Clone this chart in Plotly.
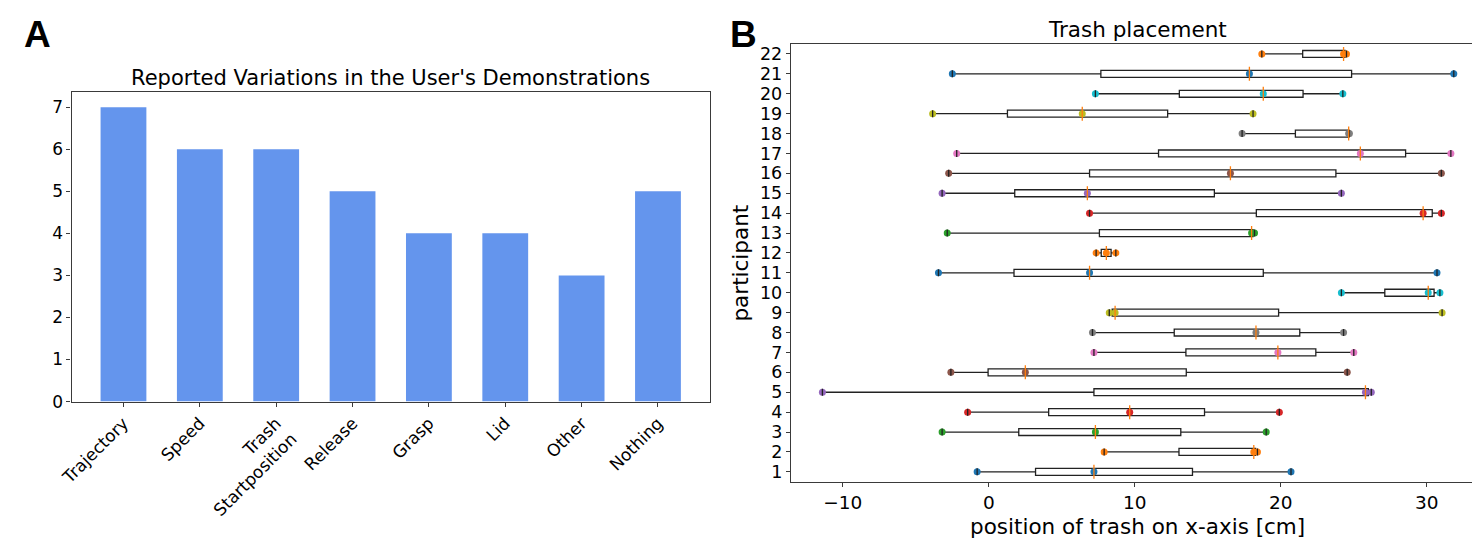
import numpy as np
import plotly.graph_objects as go

# ---------------- data ----------------
categories = ["Trajectory", "Speed", "Trash<br>Startposition", "Release",
              "Grasp", "Lid", "Other", "Nothing"]
counts = [7, 6, 6, 5, 4, 4, 3, 5]

participants = list(range(1, 23))
placements = [
    [-0.8, 7.2, 20.7],      # 1
    [7.9, 18.15, 18.4],     # 2
    [-3.2, 7.3, 19.0],      # 3
    [-1.45, 9.65, 19.9],    # 4
    [-11.4, 25.8, 26.2],    # 5
    [-2.6, 2.5, 24.55],     # 6
    [7.2, 19.8, 25.0],      # 7
    [7.1, 18.3, 24.3],      # 8
    [8.25, 8.65, 31.05],    # 9
    [24.15, 30.1, 30.9],    # 10
    [-3.45, 6.9, 30.7],     # 11
    [7.35, 8.05, 8.7],      # 12
    [-2.85, 18.0, 18.2],    # 13
    [6.9, 29.75, 31.0],     # 14
    [-3.2, 6.75, 24.15],    # 15
    [-2.75, 16.55, 31.0],   # 16
    [-2.2, 25.45, 31.65],   # 17
    [17.35, 24.65, 24.7],   # 18
    [-3.85, 6.4, 18.1],     # 19
    [7.3, 18.8, 24.25],     # 20
    [-2.5, 17.85, 31.85],   # 21
    [18.7, 24.3, 24.5],     # 22
]
x_ticks_b = [-10, 0, 10, 20, 30]

# ---------------- styles ----------------
W, H = 1480, 541
tab10 = ["#1f77b4", "#ff7f0e", "#2ca02c", "#d62728", "#9467bd",
         "#8c564b", "#e377c2", "#7f7f7f", "#bcbd22", "#17becf"]
FONT = "DejaVu Sans"
SPINE = "#3a3a3a"


def px_x(v):
    return v / W


def px_y(v):
    return 1 - v / H


fig = go.Figure()

# ---- Panel A: bar chart ----
fig.add_trace(go.Bar(
    x=categories, y=counts, width=0.6,
    marker=dict(color="#6495ED", line=dict(width=0)),
    xaxis="x", yaxis="y", showlegend=False,
))

# ---- Panel B: box plots ----
box_x, box_y = [], []
for p, vals in zip(participants, placements):
    box_x += vals
    box_y += [p] * len(vals)

fig.add_trace(go.Box(
    x=box_x, y=box_y, orientation="h",
    quartilemethod="inclusive", boxpoints=False,
    fillcolor="rgba(0,0,0,0)",
    line=dict(color="#222222", width=1.3),
    whiskerwidth=0.5,
    xaxis="x2", yaxis="y2", showlegend=False, hoverinfo="skip",
))

# coloured points
dot_colors = []
for i, vals in enumerate(placements):
    dot_colors += [tab10[i % 10]] * len(vals)
fig.add_trace(go.Scatter(
    x=box_x, y=box_y, mode="markers",
    marker=dict(size=7, color=dot_colors, line=dict(width=0)),
    xaxis="x2", yaxis="y2", showlegend=False,
))

# whisker caps over points
cap_x, cap_y = [], []
for p, vals in zip(participants, placements):
    cap_x += [float(np.min(vals)), float(np.max(vals))]
    cap_y += [p, p]
fig.add_trace(go.Scatter(
    x=cap_x, y=cap_y, mode="markers",
    marker=dict(symbol="line-ns", size=5, line=dict(color="#222222", width=1.3)),
    xaxis="x2", yaxis="y2", showlegend=False, hoverinfo="skip",
))

# medians (orange, matplotlib style)
med_x = [float(np.median(v)) for v in placements]
fig.add_trace(go.Scatter(
    x=med_x, y=participants, mode="markers",
    marker=dict(symbol="line-ns", size=10, line=dict(color="#ff7f0e", width=1.3)),
    xaxis="x2", yaxis="y2", showlegend=False, hoverinfo="skip",
))

axis_common = dict(showline=True, linecolor=SPINE, linewidth=1.2, mirror=True,
                   ticks="outside", ticklen=4, tickwidth=1, tickcolor=SPINE,
                   showgrid=False, zeroline=False)

fig.update_layout(
    width=W, height=H,
    margin=dict(l=0, r=0, t=0, b=0),
    paper_bgcolor="white", plot_bgcolor="white",
    font=dict(family=FONT, color="black"),
    boxgap=0.5, bargap=0.4,
    xaxis=dict(domain=[px_x(51), px_x(695)], anchor="y",
               type="category", range=[-0.68, 7.68],
               tickangle=-45, tickfont=dict(size=17), **axis_common),
    yaxis=dict(domain=[px_y(401), px_y(86)], anchor="x",
               range=[0, 7.35], tickvals=list(range(0, 8)),
               tickfont=dict(size=17), **axis_common),
    xaxis2=dict(domain=[px_x(776.7), px_x(1476.7)], anchor="y2",
                range=[-13.56, 33.97], tickvals=x_ticks_b,
                tickfont=dict(size=18.5), **axis_common),
    yaxis2=dict(domain=[px_y(482.7), px_y(36.7)], anchor="x2",
                range=[0.5, 22.5], tickvals=participants,
                tickfont=dict(size=17.5), **axis_common),
)

ann = []
ann.append(dict(text="<b>A</b>", x=px_x(1), y=px_y(4), xref="paper", yref="paper",
                xanchor="left", yanchor="top", showarrow=False,
                font=dict(family="Liberation Sans", size=37, color="black")))
ann.append(dict(text="<b>B</b>", x=px_x(713), y=px_y(4), xref="paper", yref="paper",
                xanchor="left", yanchor="top", showarrow=False,
                font=dict(family="Liberation Sans", size=37, color="black")))
ann.append(dict(text="Reported Variations in the User's Demonstrations",
                x=px_x((51 + 695) / 2), y=px_y(86), xref="paper", yref="paper",
                xanchor="center", yanchor="bottom", showarrow=False,
                font=dict(size=21)))
ann.append(dict(text="Trash placement",
                x=px_x((776.7 + 1476.7) / 2), y=px_y(36.7), xref="paper", yref="paper",
                xanchor="center", yanchor="bottom", showarrow=False,
                font=dict(size=21.5)))
ann.append(dict(text="position of trash on x-axis [cm]",
                x=px_x((776.7 + 1476.7) / 2), y=px_y(528.5), xref="paper", yref="paper",
                xanchor="center", yanchor="middle", showarrow=False,
                font=dict(size=21.5)))
ann.append(dict(text="participant", textangle=-90,
                x=px_x(726), y=px_y(259.7), xref="paper", yref="paper",
                xanchor="center", yanchor="middle", showarrow=False,
                font=dict(size=21.5)))
fig.update_layout(annotations=ann)

fig.write_html("out.html")
